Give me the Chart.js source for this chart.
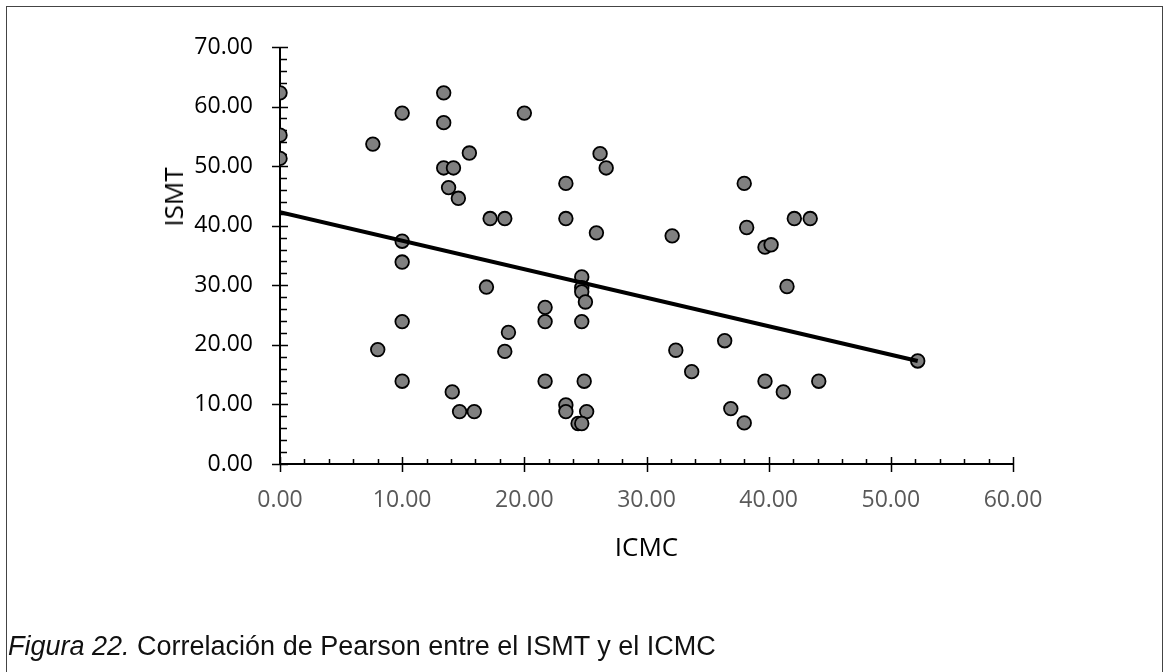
<!DOCTYPE html>
<html>
<head>
<meta charset="utf-8">
<script src="https://cdn.jsdelivr.net/npm/chart.js@4.4.1/dist/chart.umd.min.js"></script>
<style>
  html, body { margin: 0; padding: 0; background: #fff; }
  #wrap { position: relative; width: 1169px; height: 672px; overflow: hidden; }
  #frame { position: absolute; left: 6px; top: 6px; width: 1157px; height: 700px; border: 1.5px solid #444; box-sizing: border-box; }
  #chartBox { position: absolute; left: 0; top: 0; width: 1169px; height: 672px; }
  #yTitle { position: absolute; left: 173px; top: 197px; transform: translate(-50%, -50%) rotate(-90deg);
            font-family: "Open Sans", sans-serif; font-size: 26px; color: #000; white-space: nowrap; }
  #caption { position: absolute; left: 8px; top: 631px; font-family: "Liberation Sans", Arial, sans-serif;
             font-size: 27px; color: #111; white-space: nowrap; }
</style>
</head>
<body>
<div id="wrap">
  <div id="frame"></div>
  <div id="chartBox"><canvas id="chart" width="1169" height="672"></canvas></div>
  <div id="yTitle">ISMT</div>
  <div id="caption"><i>Figura 22.</i> Correlación de Pearson entre el ISMT y el ICMC</div>
</div>
<script>
// ICMC (x) and ISMT (y) values
const icmc = [
  0, 0, 0, 7.6, 10.0, 13.4, 13.4, 20.0, 15.5, 13.4,
  14.2, 13.8, 14.6, 17.2, 18.4, 10.0, 10.0, 23.4, 16.9, 21.7,
  21.7, 10.0, 18.7, 18.4, 8.0, 10.0, 21.7, 14.1, 14.7, 15.9,
  26.2, 26.7, 23.4, 25.9, 32.1, 38.0, 38.2, 39.7, 40.2, 42.1,
  43.4, 24.7, 24.7, 24.7, 25.0, 24.7, 24.9, 23.4, 23.4, 25.1,
  24.4, 24.7, 41.5, 36.4, 32.4, 33.7, 39.7, 41.2, 44.1, 36.9,
  38.0, 52.2
];
const ismt = [
  62.3, 55.2, 51.3, 53.7, 58.9, 62.3, 57.3, 58.9, 52.2, 49.7,
  49.7, 46.4, 44.6, 41.2, 41.2, 37.4, 33.9, 47.1, 29.7, 26.3,
  23.9, 23.9, 22.1, 18.9, 19.2, 13.9, 13.9, 12.1, 8.8, 8.8,
  52.1, 49.7, 41.2, 38.8, 38.3, 47.1, 39.7, 36.4, 36.8, 41.2,
  41.2, 31.4, 29.6, 28.9, 27.2, 23.9, 13.9, 9.9, 8.8, 8.8,
  6.8, 6.8, 29.8, 20.7, 19.1, 15.5, 13.9, 12.1, 13.9, 9.3,
  6.9, 17.3
];

// linear trend line end points
const trendX = [0, 52.2];
const trendY = [42.25, 17.3];

const xTicks = [0, 10, 20, 30, 40, 50, 60];
const yTicks = [0, 10, 20, 30, 40, 50, 60, 70];

const points = icmc.map((v, i) => ({ x: v, y: ismt[i] }));
const trend = trendX.map((v, i) => ({ x: v, y: trendY[i] }));

// Excel style axes: crossing major ticks, inner minor ticks every 2 units
const excelAxes = {
  id: 'excelAxes',
  beforeDatasetsDraw(chart) {
    const { ctx, scales: { x, y } } = chart;
    const x0 = x.getPixelForValue(0);
    const y0 = y.getPixelForValue(0);
    ctx.save();
    ctx.strokeStyle = '#000';
    ctx.lineWidth = 2;
    ctx.beginPath();
    ctx.moveTo(x0, y.getPixelForValue(y.max));
    ctx.lineTo(x0, y0);
    ctx.lineTo(x.getPixelForValue(x.max), y0);
    ctx.stroke();

    ctx.lineWidth = 1.5;
    ctx.beginPath();
    for (let v = y.min; v <= y.max; v += 2) {
      const py = Math.round(y.getPixelForValue(v)) + 0.5;
      if (v % 10 === 0) { ctx.moveTo(x0 - 8, py); ctx.lineTo(x0 + 8, py); }
      else { ctx.moveTo(x0, py); ctx.lineTo(x0 + 7, py); }
    }
    for (let v = x.min; v <= x.max; v += 2) {
      const px = Math.round(x.getPixelForValue(v)) + 0.5;
      if (v % 10 === 0) { ctx.moveTo(px, y0 - 7); ctx.lineTo(px, y0 + 8); }
      else { ctx.moveTo(px, y0); ctx.lineTo(px, y0 - 5); }
    }
    ctx.stroke();
    ctx.restore();
  }
};

new Chart(document.getElementById('chart'), {
  type: 'scatter',
  data: {
    datasets: [
      {
        type: 'line',
        label: 'Lineal',
        data: trend,
        borderColor: '#000',
        borderWidth: 4,
        pointRadius: 0,
        fill: false,
        order: 0
      },
      {
        label: 'ISMT',
        data: points,
        backgroundColor: '#808080',
        borderColor: '#000',
        borderWidth: 1.8,
        pointRadius: 6.8,
        pointHoverRadius: 6.8,
        order: 1
      }
    ]
  },
  options: {
    responsive: false,
    animation: false,
    events: [],
    layout: { padding: { left: 0, top: 47, right: 156, bottom: 108 } },
    plugins: { legend: { display: false }, tooltip: { enabled: false } },
    scales: {
      x: {
        type: 'linear',
        min: 0, max: 60,
        afterFit(scale) { scale.height = 100; },
        afterBuildTicks(scale) { scale.ticks = xTicks.map(v => ({ value: v })); },
        grid: { display: false, drawTicks: false },
        border: { display: false },
        ticks: {
          padding: 23,
          color: '#595959',
          font: { family: 'Open Sans', size: 23 },
          callback: v => v.toFixed(2)
        },
        title: {
          display: true,
          text: 'ICMC',
          color: '#000',
          font: { family: 'Open Sans', size: 26 },
          padding: { top: 0, bottom: 0 }
        }
      },
      y: {
        type: 'linear',
        min: 0, max: 70,
        afterFit(scale) { scale.width = 280; },
        afterBuildTicks(scale) { scale.ticks = yTicks.map(v => ({ value: v })); },
        grid: { display: false, drawTicks: false },
        border: { display: false },
        ticks: {
          padding: 27,
          color: '#000',
          font: { family: 'Open Sans', size: 23 },
          callback: v => v.toFixed(2)
        }
      }
    }
  },
  plugins: [excelAxes]
});
</script>
</body>
</html>
